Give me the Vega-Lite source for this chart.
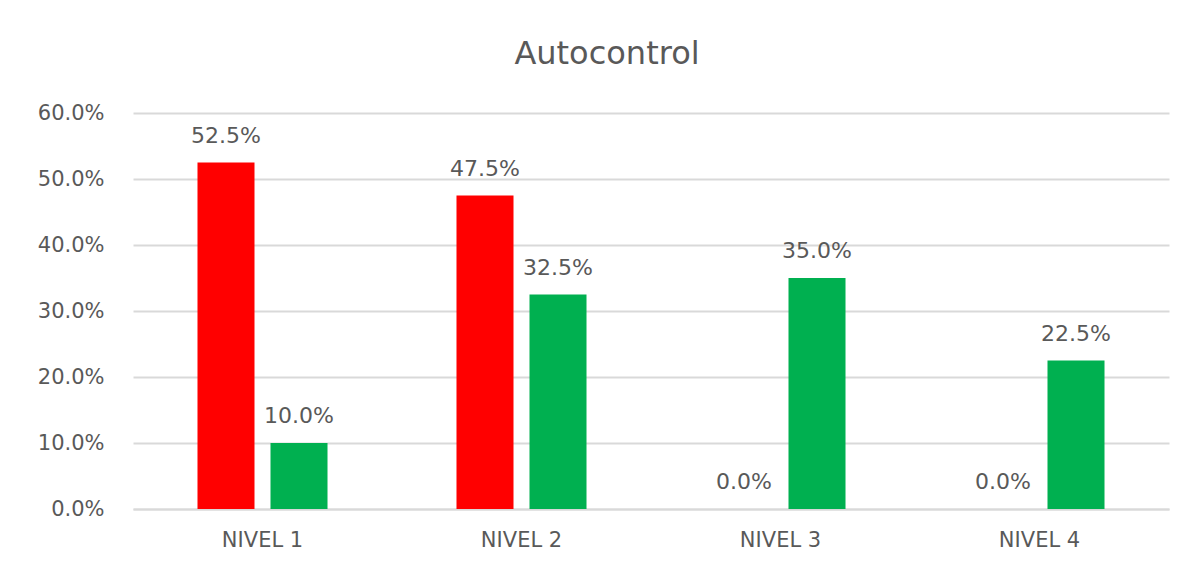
{
  "$schema": "https://vega.github.io/schema/vega-lite/v6.json",
  "width": 1036,
  "height": 396,
  "autosize": {"type": "none"},
  "padding": {"left": 133, "top": 113, "right": 23, "bottom": 56},
  "background": "white",
  "title": {
    "text": "Autocontrol",
    "font": "DejaVu Sans",
    "fontSize": 32,
    "fontWeight": "normal",
    "color": "#595959",
    "anchor": "middle",
    "frame": "group",
    "dx": -44,
    "offset": 31
  },
  "data": {
    "values": [
      {"nivel": "NIVEL 1", "serie": "Serie 1", "valor": 0.525},
      {"nivel": "NIVEL 1", "serie": "Serie 2", "valor": 0.10},
      {"nivel": "NIVEL 2", "serie": "Serie 1", "valor": 0.475},
      {"nivel": "NIVEL 2", "serie": "Serie 2", "valor": 0.325},
      {"nivel": "NIVEL 3", "serie": "Serie 1", "valor": 0.0},
      {"nivel": "NIVEL 3", "serie": "Serie 2", "valor": 0.35},
      {"nivel": "NIVEL 4", "serie": "Serie 1", "valor": 0.0},
      {"nivel": "NIVEL 4", "serie": "Serie 2", "valor": 0.225}
    ]
  },
  "encoding": {
    "x": {
      "field": "nivel",
      "type": "nominal",
      "sort": null,
      "scale": {"paddingInner": 0.498, "paddingOuter": 0.249},
      "axis": {
        "title": null,
        "labelAngle": 0,
        "labelFont": "DejaVu Sans",
        "labelFontSize": 21,
        "labelColor": "#595959",
        "labelPadding": 20,
        "labelBaseline": "top",
        "ticks": false,
        "domain": true,
        "domainColor": "#d9d9d9",
        "domainWidth": 2,
        "grid": false
      }
    },
    "xOffset": {
      "field": "serie",
      "type": "nominal",
      "sort": null,
      "scale": {"paddingInner": 0.219, "paddingOuter": 0}
    },
    "y": {
      "field": "valor",
      "type": "quantitative",
      "scale": {"domain": [0, 0.6], "nice": false},
      "axis": {
        "title": null,
        "values": [0, 0.1, 0.2, 0.3, 0.4, 0.5, 0.6],
        "format": ".1%",
        "labelFont": "DejaVu Sans",
        "labelFontSize": 21,
        "labelColor": "#595959",
        "labelPadding": 29,
        "ticks": false,
        "domain": false,
        "grid": true,
        "gridColor": "#d9d9d9",
        "gridWidth": 2
      }
    }
  },
  "layer": [
    {
      "mark": {"type": "bar"},
      "encoding": {
        "color": {
          "field": "serie",
          "type": "nominal",
          "scale": {"domain": ["Serie 1", "Serie 2"], "range": ["#FF0000", "#00B050"]},
          "legend": null
        }
      }
    },
    {
      "mark": {
        "type": "text",
        "font": "DejaVu Sans",
        "fontSize": 22,
        "color": "#595959",
        "baseline": "alphabetic",
        "align": "center",
        "dy": -20
      },
      "encoding": {
        "text": {"field": "valor", "type": "quantitative", "format": ".1%"}
      }
    }
  ],
  "config": {
    "view": {"stroke": null}
  }
}
